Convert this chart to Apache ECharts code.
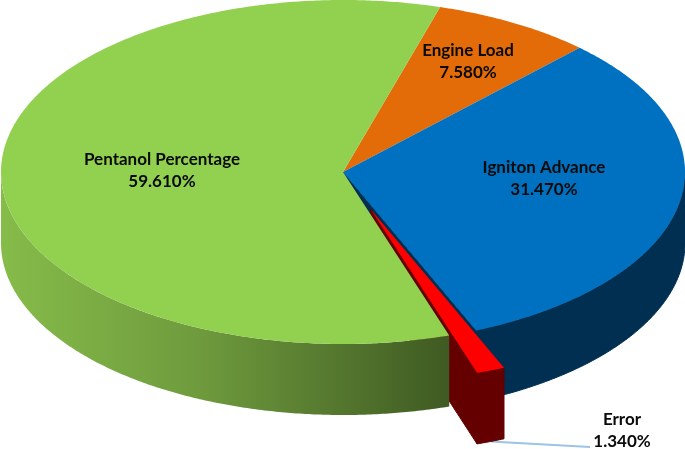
<!DOCTYPE html>
<html>
<head>
<meta charset="utf-8">
<style>
  html, body { margin: 0; padding: 0; background: #fff; }
  #chart { width: 685px; height: 449px; }
</style>
<script src="https://cdn.jsdelivr.net/npm/echarts@6/dist/echarts.min.js"></script>
</head>
<body>
<div id="chart"></div>
<script>
const categories = ['Engine Load', 'Igniton Advance', 'Error', 'Pentanol Percentage']
const percentages = [7.58, 31.47, 1.34, 59.61]

const topColors = ['#e36c09', '#0070c0', '#ff0000', '#92d050']
const wallColors = ['#8a4206', '#002f52', '#640000', null]
const wallLayers = [1, 1, 2, 3]
const labelSpots = [[468, 62], [544, 179], [622, 431], [162, 171]]

const START_ANGLE = 16.5
const CX = 343
const CY = 172
const RX = 342
const RY = 172
const DEPTH = 71
const EXPLODE = [2]
const EXPLODE_K = 0.232

const toRad = d => d * Math.PI / 180

function pointAt(angle, dx, dy) {
  return [CX + dx + RX * Math.sin(toRad(angle)), CY + dy - RY * Math.cos(toRad(angle))]
}

function arcPoints(from, to, dx, dy) {
  const pts = []
  const n = Math.max(2, Math.ceil((to - from) * 2))
  for (let i = 0; i <= n; i++) pts.push(pointAt(from + (to - from) * i / n, dx, dy))
  return pts
}

function sliceAngles(index) {
  let from = START_ANGLE
  for (let i = 0; i < index; i++) from += percentages[i] * 3.6
  return [from, from + percentages[index] * 3.6]
}

function wallFill(index) {
  if (wallColors[index]) return wallColors[index]
  return {
    type: 'linear', global: true, x: 0, y: 0, x2: 450, y2: 0,
    colorStops: [
      { offset: 0, color: '#86bc4a' },
      { offset: 0.45, color: '#6e9a3d' },
      { offset: 1, color: '#3f5a22' },
    ],
  }
}

function renderSlice(params) {
  const i = params.dataIndex
  const [from, to] = sliceAngles(i)
  const mid = (from + to) / 2
  const k = EXPLODE.includes(i) ? EXPLODE_K : 0
  const dx = k * RX * Math.sin(toRad(mid))
  const dy = -k * RY * Math.cos(toRad(mid))
  const tip = [CX + dx, CY + dy]
  const children = []
  const poly = (points, fill, z2, stroke) => children.push({
    type: 'polygon', z2, shape: { points }, style: { fill, stroke: stroke || null, lineWidth: 1 },
  })

  // outer wall, only the part on the front half shows
  const wallFrom = Math.max(from, 90)
  const wallTo = Math.min(to, 270)
  if (wallTo > wallFrom) {
    poly(
      arcPoints(wallFrom, wallTo, dx, dy).concat(arcPoints(wallFrom, wallTo, dx, dy + DEPTH).reverse()),
      wallFill(i), wallLayers[i], wallColors[i],
    )
  }
  // cut faces showing under the edge of the slice
  if (i === 1 || i === 2) {
    const e = pointAt(to, dx, dy)
    poly([tip, e, [e[0], e[1] + DEPTH], [tip[0], tip[1] + DEPTH]], wallFill(i), wallLayers[i], wallColors[i])
  }

  // top face
  poly([tip].concat(arcPoints(from, to, dx, dy)), topColors[i], EXPLODE.includes(i) ? 5 : 4)

  const spot = labelSpots[i]
  children.push({
    type: 'text', z2: 7, x: spot[0], y: spot[1],
    style: {
      text: categories[i] + '\n' + percentages[i].toFixed(3) + '%',
      fill: '#0a0a0a',
      font: 'bold 17px Lato, "Open Sans", sans-serif',
      lineHeight: 22,
      align: 'center',
      verticalAlign: 'middle',
    },
  })

  // leader line for the small slice
  if (i === 2) {
    const s = pointAt(mid, dx, dy + DEPTH)
    children.push({
      type: 'polyline', z2: 0,
      shape: { points: [s, [590, 447]] },
      style: { stroke: '#9dc3e6', lineWidth: 2, fill: null },
    })
  }
  return { type: 'group', children }
}

const chart = echarts.init(document.getElementById('chart'), null, { renderer: 'canvas' })
chart.setOption({
  backgroundColor: '#ffffff',
  animation: false,
  series: [{
    type: 'custom',
    coordinateSystem: 'none',
    silent: true,
    renderItem: renderSlice,
    data: percentages,
  }],
})
</script>
</body>
</html>
